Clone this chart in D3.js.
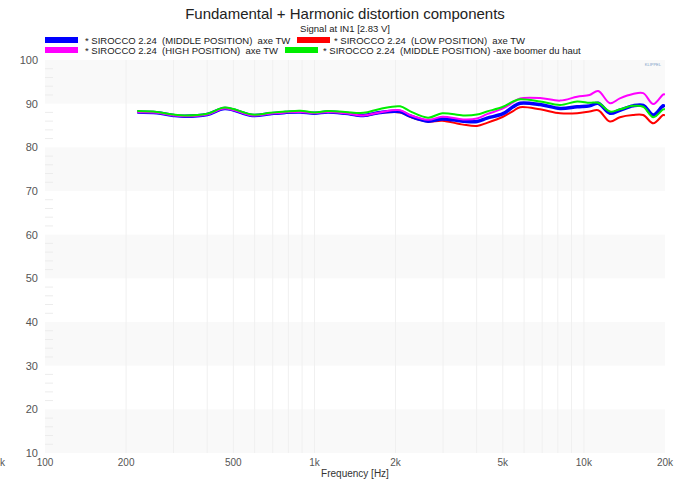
<!DOCTYPE html>
<html>
<head>
<meta charset="utf-8">
<script src="https://cdn.jsdelivr.net/npm/d3@7"></script>
<style>
  body { margin: 0; background: #fff; }
  svg { font-family: "Liberation Sans", Arial, sans-serif; }
</style>
</head>
<body>
<svg id="chart"></svg>
<script>
// Frequencies (Hz) shared by all four measurements
const freqs = [220, 260, 300, 330, 400, 465, 590, 685, 780, 885, 1000, 1120, 1300, 1520, 1750, 2080, 2260, 2640, 2980, 3560, 4010, 4370, 5010, 5460, 5800, 6880, 8160, 9440, 10500, 11300, 12500, 13600, 15200, 16600, 18100, 19700, 20000];

// Levels (dB)
const middleTW = [88.1, 87.9, 87.3, 87.1, 87.5, 88.9, 87.3, 87.7, 88.0, 88.1, 87.8, 88.1, 87.8, 87.3, 88.0, 88.2, 87.2, 86.0, 86.5, 86.0, 85.9, 86.7, 87.7, 89.3, 90.1, 89.8, 88.9, 89.3, 89.5, 90.1, 87.8, 88.5, 89.5, 89.6, 87.4, 89.5, 89.3];
const lowTW = [88.1, 87.9, 87.3, 87.1, 87.5, 88.9, 87.3, 87.7, 88.0, 88.1, 87.8, 88.1, 87.8, 87.2, 87.9, 88.0, 87.0, 85.9, 86.1, 85.2, 84.9, 85.6, 87.0, 88.3, 89.2, 88.7, 87.8, 87.8, 88.2, 88.5, 85.9, 86.9, 87.4, 87.4, 85.5, 87.4, 87.3];
const highTW = [88.1, 87.9, 87.3, 87.1, 87.5, 88.9, 87.3, 87.7, 88.0, 88.1, 87.8, 88.1, 87.8, 87.3, 88.0, 88.5, 87.4, 86.3, 87.0, 86.4, 86.6, 87.6, 88.9, 90.3, 91.2, 91.3, 90.7, 91.6, 92.0, 92.9, 90.1, 91.2, 92.2, 92.4, 89.9, 92.1, 92.1];
const middleBoomer = [88.3, 88.1, 87.5, 87.3, 87.7, 89.1, 87.5, 87.9, 88.2, 88.4, 88.0, 88.3, 88.1, 87.9, 88.8, 89.4, 88.3, 86.8, 87.8, 87.3, 87.5, 88.2, 89.3, 90.5, 91.0, 90.5, 89.7, 90.5, 90.2, 90.2, 88.2, 88.7, 89.5, 89.3, 86.9, 88.7, 88.7];

const yTicks = [10, 20, 30, 40, 50, 60, 70, 80, 90, 100];
const xTicks = [100, 200, 500, 1000, 2000, 5000, 10000, 20000];
const xTickLabels = ["100", "200", "500", "1k", "2k", "5k", "10k", "20k"];

const width = 687, height = 481;
const margin = { left: 45, right: 22, top: 60, bottom: 28 };

const svg = d3.select("#chart").attr("width", width).attr("height", height);

const x = d3.scaleLog().domain([100, 20000]).range([margin.left, width - margin.right]);
const y = d3.scaleLinear().domain([10, 100]).range([height - margin.bottom, margin.top]);

// alternating background bands
const bands = d3.range(10, 100, 10).filter(d => (d / 10) % 2 === 1);
svg.append("g").selectAll("rect")
    .data(bands)
    .enter()
    .append("rect")
    .attr("x", x(100))
    .attr("width", x(20000) - x(100))
    .attr("y", d => y(d + 10))
    .attr("height", d => y(d) - y(d + 10))
    .attr("fill", "#f9f9f9");

// vertical grid lines
const gridFreqs = [];
[100, 1000, 10000].forEach(dec => {
    for (let k = 1; k <= 9; k++) {
        const f = dec * k;
        if (f > 100 && f < 20000) gridFreqs.push(f);
    }
});
svg.append("g").selectAll("line")
    .data(gridFreqs)
    .enter()
    .append("line")
    .attr("x1", d => x(d)).attr("x2", d => x(d))
    .attr("y1", y(100)).attr("y2", y(10))
    .attr("stroke", "#f0f0f0")
    .attr("stroke-width", 1);

// minor y ticks
svg.append("g").selectAll("line")
    .data(d3.range(12, 100, 2).filter(d => d % 10 !== 0))
    .enter()
    .append("line")
    .attr("x1", x(100)).attr("x2", x(100) + 8)
    .attr("y1", d => y(d)).attr("y2", d => y(d))
    .attr("stroke", "#ececec");

// y axis labels
svg.append("g").selectAll("text")
    .data(yTicks)
    .enter()
    .append("text")
    .attr("x", margin.left - 7)
    .attr("y", d => y(d) + 4)
    .attr("text-anchor", "end")
    .attr("font-size", 11)
    .attr("fill", "#555")
    .text(d => d);

// x axis labels
svg.append("g").selectAll("text")
    .data(xTicks)
    .enter()
    .append("text")
    .attr("x", d => x(d))
    .attr("y", height - margin.bottom + 13)
    .attr("text-anchor", "middle")
    .attr("font-size", 10)
    .attr("fill", "#555")
    .text((d, i) => xTickLabels[i]);

// clipped label stub at far left
svg.append("text")
    .attr("x", 0).attr("y", height - margin.bottom + 13)
    .attr("font-size", 10).attr("fill", "#555")
    .text("k");

svg.append("text")
    .attr("x", (x(100) + x(20000)) / 2)
    .attr("y", height - 4)
    .attr("text-anchor", "middle")
    .attr("font-size", 10)
    .attr("fill", "#333")
    .text("Frequency [Hz]");

// title
svg.append("text")
    .attr("x", 345).attr("y", 19)
    .attr("text-anchor", "middle")
    .attr("font-size", 15)
    .attr("fill", "#222")
    .text("Fundamental + Harmonic distortion components");

svg.append("text")
    .attr("x", 345).attr("y", 32)
    .attr("text-anchor", "middle")
    .attr("font-size", 9.5)
    .attr("fill", "#222")
    .text("Signal at IN1 [2.83 V]");

// tiny logo
svg.append("text")
    .attr("x", x(20000) - 4).attr("y", y(100) + 6)
    .attr("text-anchor", "end")
    .attr("font-size", 4)
    .attr("fill", "#7a9cc6")
    .text("KLIPPEL");

// curves
const series = [
    { name: "* SIROCCO 2.24  (LOW POSITION)  axe TW", values: lowTW, color: "#ff0000", w: 2 },
    { name: "* SIROCCO 2.24  (MIDDLE POSITION)  axe TW", values: middleTW, color: "#0000ff", w: 3.5 },
    { name: "* SIROCCO 2.24  (HIGH POSITION)  axe TW", values: highTW, color: "#ff00ff", w: 2 },
    { name: "* SIROCCO 2.24  (MIDDLE POSITION) -axe boomer du haut", values: middleBoomer, color: "#00ee00", w: 2 }
];

svg.append("clipPath").attr("id", "plotclip")
    .append("rect")
    .attr("x", x(100)).attr("y", y(100))
    .attr("width", x(20000) - x(100)).attr("height", y(10) - y(100));

const line = d3.line()
    .x((d, i) => x(freqs[i]))
    .y(d => y(d))
    .curve(d3.curveCatmullRom.alpha(0.5));

svg.append("g").attr("clip-path", "url(#plotclip)")
    .selectAll("path")
    .data(series)
    .enter()
    .append("path")
    .attr("d", d => line(d.values))
    .attr("fill", "none")
    .attr("stroke", d => d.color)
    .attr("stroke-width", d => d.w)
    .attr("stroke-linejoin", "round");

// legend
const legendItems = [
    { label: series[1].name, color: "#0000ff", lx: 45, ly: 40, tx: 85 },
    { label: series[0].name, color: "#ff0000", lx: 297, ly: 40, tx: 334 },
    { label: series[2].name, color: "#ff00ff", lx: 45, ly: 50, tx: 85 },
    { label: series[3].name, color: "#00ee00", lx: 285, ly: 50, tx: 323 }
];
const legend = svg.append("g");
legend.selectAll("rect")
    .data(legendItems)
    .enter()
    .append("rect")
    .attr("x", d => d.lx).attr("y", d => d.ly - 3)
    .attr("width", 33).attr("height", 6)
    .attr("fill", d => d.color);
legend.selectAll("text")
    .data(legendItems)
    .enter()
    .append("text")
    .attr("x", d => d.tx).attr("y", d => d.ly + 3.5)
    .attr("font-size", 9.5)
    .attr("fill", "#222")
    .attr("xml:space", "preserve")
    .style("white-space", "pre")
    .text(d => d.label);
</script>
</body>
</html>
